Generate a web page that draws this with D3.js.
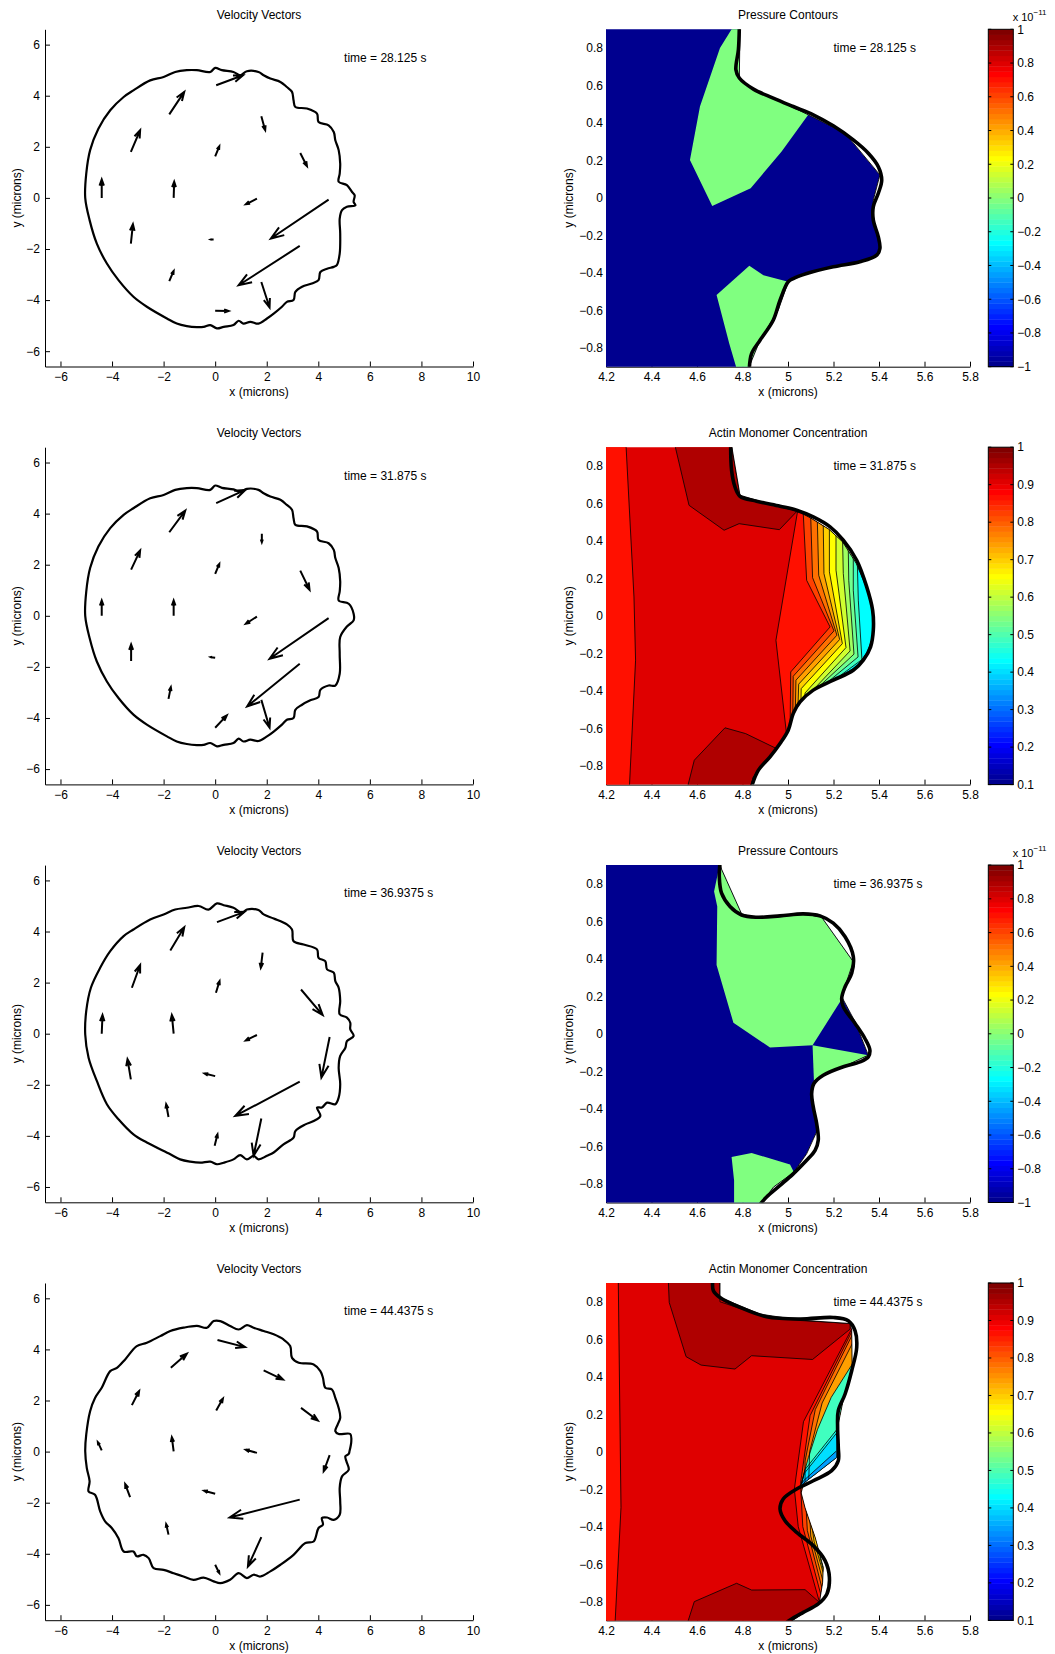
<!DOCTYPE html>
<html><head><meta charset="utf-8">
<script src="https://cdn.jsdelivr.net/npm/d3@7"></script>
<style>
body{margin:0;background:#fff}
text{font-family:"Liberation Sans",Arial,Helvetica,sans-serif;fill:#000}
</style>
</head><body>
<svg id="chart" width="1055" height="1654"></svg>
<script>
// ---------------- DATA ----------------
const timeLabels = ["time = 28.125 s","time = 31.875 s","time = 36.9375 s","time = 44.4375 s"];
const rightTitles = ["Pressure Contours","Actin Monomer Concentration","Pressure Contours","Actin Monomer Concentration"];
const rightKinds = ["pressure","actin","pressure","actin"];

const xTicksLeft = [-6,-4,-2,0,2,4,6,8,10];
const yTicksLeft = [-6,-4,-2,0,2,4,6];
const xTicksRight = [4.2,4.4,4.6,4.8,5,5.2,5.4,5.6,5.8];
const yTicksRight = [-0.8,-0.6,-0.4,-0.2,0,0.2,0.4,0.6,0.8];
const cbTicksPressure = [-1,-0.8,-0.6,-0.4,-0.2,0,0.2,0.4,0.6,0.8,1];
const cbTicksActin = [0.1,0.2,0.3,0.4,0.5,0.6,0.7,0.8,0.9,1];
const cbRangePressure = [-1,1];
const cbRangeActin = [0.1,1];

// velocity vectors [x, y, u, v]
const arrows1 = [[0.04,4.41,1.04,0.39],[-1.78,3.27,0.58,0.88],[-3.27,1.80,0.36,0.85],[-4.40,0,0,0.72],[-3.27,-1.79,0.08,0.76],[-1.78,-3.26,0.17,0.40],[0,-4.42,0.52,-0.01],[1.79,-3.29,0.32,-1.00],[3.28,-1.88,-2.37,-1.54],[4.40,-0.07,-2.24,-1.52],[3.30,1.76,0.26,-0.52],[1.79,3.20,0.15,-0.55],[0,1.63,0.16,0.39],[-1.61,0,0.02,0.63],[-0.06,-1.63,-0.11,0],[1.62,-0.03,-0.43,-0.22]];
const arrows2 = [[0.04,4.41,1.13,0.52],[-1.78,3.27,0.62,0.85],[-3.26,1.81,0.35,0.75],[-4.40,0,0,0.6],[-3.26,-1.77,0,0.65],[-1.81,-3.25,0.09,0.46],[0,-4.38,0.45,0.48],[1.79,-3.29,0.32,-1.09],[3.28,-1.88,-2.04,-1.67],[4.40,-0.09,-2.29,-1.59],[3.30,1.77,0.36,-0.75],[1.81,3.21,0,-0.33],[0,1.64,0.16,0.39],[-1.61,0,0,0.6],[0,-1.64,-0.17,0.02],[1.62,-0.03,-0.43,-0.28]];
const arrows3 = [[0.07,4.37,1.07,0.40],[-1.74,3.26,0.54,0.91],[-3.23,1.80,0.32,0.89],[-4.40,0,0.03,0.73],[-3.27,-1.79,-0.13,0.79],[-1.81,-3.26,-0.09,0.50],[-0.02,-4.39,0.11,0.45],[1.79,-3.32,-0.30,-1.46],[3.28,-1.88,-2.50,-1.34],[4.44,-0.13,-0.32,-1.59],[3.33,1.73,0.84,-1.00],[1.84,3.17,-0.07,-0.59],[0.03,1.60,0.14,0.46],[-1.61,0,-0.07,0.73],[0,-1.66,-0.41,0.10],[1.62,-0.05,-0.43,-0.21]];
const arrows4 = [[0.09,4.37,1.07,-0.28],[-1.72,3.28,0.62,0.55],[-3.23,1.82,0.28,0.55],[-4.40,0.05,-0.15,0.32],[-3.30,-1.78,-0.19,0.51],[-1.81,-3.25,-0.09,0.41],[0,-4.43,0.16,-0.33],[1.79,-3.35,-0.52,-1.15],[3.28,-1.88,-2.72,-0.70],[4.44,-0.14,-0.23,-0.63],[3.33,1.71,0.65,-0.49],[1.88,3.18,0.75,-0.36],[0.04,1.61,0.26,0.47],[-1.61,0.01,-0.07,0.55],[0,-1.65,-0.43,0.12],[1.62,-0.05,-0.43,0.12]];

// whole-cell outlines (microns)
const cell1 = [[0.00,5.09],[0.26,5.00],[0.71,4.93],[0.97,4.80],[1.23,4.96],[1.68,4.93],[1.88,4.80],[2.14,4.67],[2.53,4.54],[2.78,4.34],[2.98,4.15],[3.04,3.82],[3.11,3.56],[3.56,3.50],[3.95,3.30],[4.01,2.97],[4.40,2.84],[4.60,2.58],[4.66,2.26],[4.79,1.87],[4.85,1.34],[4.83,0.95],[4.79,0.63],[5.11,0.50],[5.31,0.23],[5.41,0.10],[5.37,-0.16],[5.44,-0.29],[5.11,-0.35],[4.92,-0.48],[4.83,-0.81],[4.85,-1.40],[4.83,-2.18],[4.72,-2.63],[4.60,-2.70],[4.34,-2.77],[4.08,-2.90],[4.01,-3.22],[3.75,-3.35],[3.37,-3.48],[3.11,-3.68],[3.04,-4.00],[2.78,-4.07],[2.59,-4.26],[2.27,-4.53],[2.01,-4.72],[1.68,-4.92],[1.36,-4.85],[1.10,-4.92],[0.91,-4.81],[0.71,-4.98],[0.33,-5.05],[0.07,-5.11],[-0.19,-4.98],[-0.45,-5.05],[-0.71,-5.06],[-1.10,-5.02],[-1.49,-4.92],[-1.87,-4.72],[-2.65,-4.26],[-3.17,-3.87],[-3.75,-3.22],[-4.20,-2.57],[-4.59,-1.79],[-4.87,-0.87],[-5.04,0],[-5.00,0.95],[-4.85,1.87],[-4.53,2.71],[-4.07,3.43],[-3.55,3.95],[-3.17,4.21],[-2.52,4.60],[-2.00,4.73],[-1.55,4.93],[-1.10,5.00],[-0.71,5.00],[-0.19,4.93]];
const cell2 = [[0.00,5.10],[0.26,5.01],[0.71,4.95],[0.97,4.85],[1.23,4.97],[1.68,4.93],[1.88,4.80],[2.14,4.67],[2.53,4.54],[2.78,4.34],[2.98,4.15],[3.04,3.82],[3.11,3.56],[3.56,3.50],[3.95,3.30],[4.01,2.97],[4.40,2.84],[4.60,2.58],[4.66,2.26],[4.79,1.87],[4.85,1.34],[4.83,0.95],[4.79,0.60],[5.18,0.47],[5.37,0.08],[5.37,-0.18],[5.11,-0.42],[4.85,-0.83],[4.83,-1.49],[4.83,-2.27],[4.66,-2.73],[4.40,-2.73],[4.08,-2.90],[4.01,-3.18],[3.69,-3.31],[3.37,-3.48],[3.11,-3.68],[3.04,-4.00],[2.78,-4.07],[2.59,-4.26],[2.27,-4.53],[2.01,-4.72],[1.68,-4.90],[1.36,-4.85],[1.10,-4.92],[0.91,-4.81],[0.71,-4.98],[0.33,-5.05],[0.07,-5.11],[-0.19,-4.98],[-0.45,-5.05],[-0.71,-5.06],[-1.10,-5.02],[-1.49,-4.92],[-1.87,-4.72],[-2.65,-4.26],[-3.17,-3.87],[-3.75,-3.22],[-4.20,-2.57],[-4.59,-1.79],[-4.87,-0.87],[-5.04,0],[-5.00,0.95],[-4.85,1.87],[-4.53,2.71],[-4.07,3.43],[-3.55,3.95],[-3.17,4.21],[-2.52,4.60],[-2.00,4.73],[-1.55,4.93],[-1.10,5.00],[-0.71,5.00],[-0.19,4.93]];
const cell3 = [[0.07,5.10],[0.33,5.03],[0.71,4.93],[1.04,4.73],[1.23,4.86],[1.68,4.84],[1.88,4.67],[2.27,4.51],[2.78,4.28],[2.98,4.08],[3.04,3.62],[3.43,3.49],[3.95,3.30],[4.01,2.97],[4.27,2.84],[4.34,2.52],[4.60,2.39],[4.66,2.06],[4.79,1.80],[4.85,1.28],[4.83,0.76],[5.11,0.63],[5.24,0.43],[5.24,0.17],[5.37,-0.09],[5.11,-0.29],[5.05,-0.55],[4.85,-0.87],[4.79,-1.33],[4.85,-1.98],[4.79,-2.50],[4.66,-2.76],[4.34,-2.70],[4.14,-2.89],[3.95,-2.89],[4.08,-3.22],[3.82,-3.42],[3.50,-3.55],[3.11,-3.81],[3.04,-4.07],[2.65,-4.33],[2.27,-4.65],[2.01,-4.78],[1.68,-4.92],[1.49,-4.78],[1.23,-4.92],[0.97,-4.75],[0.71,-4.92],[0.33,-5.05],[0.07,-5.11],[-0.19,-5.01],[-0.58,-5.05],[-0.97,-5.01],[-1.36,-4.92],[-1.74,-4.72],[-2.65,-4.26],[-3.17,-3.94],[-3.75,-3.35],[-4.20,-2.76],[-4.59,-1.85],[-4.91,-0.94],[-5.04,-0.03],[-5.00,0.89],[-4.82,1.80],[-4.46,2.58],[-4.07,3.23],[-3.55,3.82],[-3.17,4.08],[-2.52,4.47],[-2.00,4.67],[-1.55,4.86],[-1.10,4.93],[-0.64,5.00],[-0.26,4.86]];
const cell4 = [[-0.06,5.11],[0.20,5.11],[0.58,4.92],[0.91,4.78],[1.23,4.95],[1.49,4.85],[1.88,4.72],[2.27,4.59],[2.65,4.39],[2.91,4.13],[2.98,3.67],[3.24,3.48],[3.82,3.41],[4.08,3.15],[4.18,2.89],[4.27,2.50],[4.53,2.43],[4.66,2.10],[4.79,1.71],[4.85,1.32],[4.75,1.06],[4.66,0.80],[4.79,0.69],[5.24,0.69],[5.28,0.41],[5.21,0.01],[5.18,-0.09],[5.05,-0.18],[5.09,-0.38],[5.18,-0.71],[4.92,-0.97],[4.83,-1.42],[4.85,-1.95],[4.83,-2.47],[4.60,-2.67],[4.34,-2.58],[4.14,-2.60],[4.18,-2.86],[4.01,-2.99],[3.82,-3.52],[3.50,-3.58],[3.04,-4.04],[2.53,-4.43],[2.14,-4.69],[1.75,-4.89],[1.49,-4.82],[1.23,-4.95],[0.91,-4.76],[0.58,-5.02],[0.20,-5.15],[-0.06,-5.08],[-0.45,-4.93],[-0.84,-5.02],[-1.23,-4.89],[-1.61,-4.76],[-2.00,-4.63],[-2.39,-4.56],[-2.58,-4.17],[-2.78,-4.04],[-3.04,-4.10],[-3.17,-3.91],[-3.55,-3.91],[-3.75,-3.39],[-4.01,-2.99],[-4.27,-2.73],[-4.46,-2.34],[-4.66,-1.69],[-4.91,-1.56],[-4.87,-1.16],[-4.98,-0.64],[-5.04,0.01],[-5.00,0.67],[-4.85,1.58],[-4.66,2.10],[-4.40,2.50],[-4.07,3.15],[-3.81,3.28],[-3.49,3.61],[-3.04,4.13],[-2.65,4.26],[-2.13,4.52],[-1.74,4.72],[-1.23,4.85],[-0.71,4.92],[-0.32,4.85]];

// zoomed leading-edge: mesh boundary (straight) and cell outline (smooth)
const mesh1 = [[4.789,0.91],[4.786,0.640],[4.848,0.581],[4.935,0.533],[5.089,0.444],[5.251,0.346],[5.404,0.123],[5.375,-0.011],[5.375,-0.118],[5.404,-0.260],[5.390,-0.305],[5.316,-0.340],[5.199,-0.367],[5.082,-0.403],[5.001,-0.447],[4.957,-0.599],[4.877,-0.759],[4.826,-0.91]];
const edge1 = [[4.786,0.91],[4.782,0.791],[4.771,0.684],[4.786,0.640],[4.848,0.581],[4.935,0.533],[5.023,0.488],[5.111,0.444],[5.199,0.385],[5.287,0.310],[5.353,0.239],[5.397,0.167],[5.412,0.096],[5.397,0.025],[5.375,-0.046],[5.375,-0.118],[5.397,-0.207],[5.404,-0.269],[5.390,-0.305],[5.316,-0.340],[5.199,-0.367],[5.082,-0.403],[5.023,-0.430],[5.001,-0.447],[4.965,-0.545],[4.935,-0.652],[4.877,-0.759],[4.840,-0.830],[4.830,-0.91]];
const pressure1Base = -1;
const pressure1Zones = [
  {v:-0.02, pts:[[4.757,0.91],[4.701,0.80],[4.613,0.488],[4.569,0.203],[4.667,-0.043],[4.836,0.052],[4.972,0.248],[5.089,0.444],[4.935,0.533],[4.848,0.581],[4.786,0.640],[4.789,0.91]]},
  {v:-0.02, pts:[[4.686,-0.518],[4.830,-0.362],[4.892,-0.412],[5.001,-0.447],[4.957,-0.599],[4.877,-0.759],[4.826,-0.91],[4.774,-0.91],[4.742,-0.777]]}
];

const mesh2 = [[4.752,0.91],[4.789,0.644],[4.862,0.617],[4.936,0.590],[5.041,0.560],[5.10,0.522],[5.18,0.462],[5.24,0.395],[5.30,0.28],[5.345,0.15],[5.372,0.03],[5.375,-0.05],[5.37,-0.12],[5.35,-0.19],[5.309,-0.263],[5.229,-0.325],[5.111,-0.396],[5.053,-0.459],[5.026,-0.521],[5.001,-0.61],[4.950,-0.708],[4.892,-0.788],[4.848,-0.859],[4.836,-0.91]];
const edge2 = [[4.748,0.91],[4.752,0.777],[4.767,0.688],[4.789,0.638],[4.862,0.612],[4.965,0.585],[5.038,0.564],[5.111,0.528],[5.185,0.475],[5.243,0.404],[5.302,0.297],[5.346,0.155],[5.372,0.030],[5.375,-0.076],[5.363,-0.165],[5.331,-0.236],[5.287,-0.290],[5.199,-0.343],[5.111,-0.396],[5.053,-0.459],[5.023,-0.521],[5.001,-0.610],[4.965,-0.681],[4.921,-0.752],[4.870,-0.823],[4.840,-0.91]];
const actin2Base = 0.91;
const actin2Strip = {v:0.865, line:[[4.288,0.91],[4.323,0.101],[4.330,-0.236],[4.303,-0.91]]};
const actin2High = [
  {v:0.95, pts:[[4.503,0.91],[4.565,0.590],[4.719,0.457],[4.785,0.492],[4.962,0.460],[5.041,0.560],[4.936,0.590],[4.862,0.617],[4.789,0.644],[4.752,0.91]]},
  {v:0.95, pts:[[4.559,-0.91],[4.588,-0.770],[4.723,-0.597],[4.814,-0.628],[4.950,-0.708],[4.892,-0.788],[4.848,-0.859],[4.836,-0.91]]}
];
const actin2Bands = [
  {v:0.865, line:[[5.043,0.565],[4.947,-0.130],[4.993,-0.625]]},
  {v:0.825, line:[[5.067,0.548],[5.082,0.190],[5.185,-0.059],[5.012,-0.299],[5.009,-0.628]]},
  {v:0.78,  line:[[5.100,0.527],[5.108,0.204],[5.202,-0.080],[5.023,-0.322],[5.021,-0.556]]},
  {v:0.74,  line:[[5.129,0.505],[5.135,0.217],[5.215,-0.103],[5.035,-0.343],[5.032,-0.510]]},
  {v:0.70,  line:[[5.155,0.486],[5.158,0.226],[5.227,-0.126],[5.047,-0.364],[5.044,-0.482]]},
  {v:0.655, line:[[5.182,0.465],[5.182,0.235],[5.239,-0.148],[5.058,-0.388],[5.057,-0.458]]},
  {v:0.61,  line:[[5.211,0.432],[5.211,0.244],[5.255,-0.169],[5.075,-0.411],[5.073,-0.440]]},
  {v:0.57,  line:[[5.240,0.400],[5.243,0.226],[5.273,-0.187],[5.097,-0.412]]},
  {v:0.53,  line:[[5.265,0.352],[5.267,0.190],[5.290,-0.204],[5.123,-0.392]]},
  {v:0.485, line:[[5.287,0.310],[5.287,0.137],[5.308,-0.219],[5.155,-0.373]]},
  {v:0.43,  line:[[5.305,0.270],[5.309,0.084],[5.325,-0.233],[5.199,-0.346]]}
];

const mesh3 = [[4.701,0.91],[4.708,0.878],[4.796,0.640],[4.862,0.616],[4.965,0.629],[5.067,0.640],[5.148,0.622],[5.287,0.385],[5.236,0.198],[5.295,0.064],[5.353,-0.114],[5.243,-0.176],[5.155,-0.221],[5.114,-0.251],[5.104,-0.319],[5.114,-0.39],[5.129,-0.515],[5.082,-0.640],[5.026,-0.738],[4.936,-0.818],[4.880,-0.91]];
const edge3 = [[4.701,0.91],[4.698,0.839],[4.708,0.75],[4.745,0.679],[4.796,0.634],[4.862,0.622],[4.965,0.629],[5.067,0.640],[5.141,0.629],[5.199,0.590],[5.251,0.518],[5.287,0.412],[5.280,0.323],[5.251,0.251],[5.236,0.189],[5.243,0.144],[5.295,0.055],[5.338,-0.025],[5.360,-0.087],[5.353,-0.123],[5.316,-0.150],[5.243,-0.176],[5.155,-0.221],[5.114,-0.265],[5.104,-0.319],[5.111,-0.390],[5.126,-0.479],[5.133,-0.568],[5.119,-0.622],[5.082,-0.675],[5.023,-0.747],[4.965,-0.809],[4.906,-0.871],[4.877,-0.91]];
const pressure3Base = -1;
const pressure3Zones = [
  {v:-0.02, pts:[[4.701,0.91],[4.675,0.759],[4.689,0.679],[4.686,0.367],[4.760,0.059],[4.921,-0.073],[5.108,-0.061],[5.229,0.171],[5.287,0.385],[5.148,0.622],[5.067,0.640],[4.965,0.629],[4.862,0.616],[4.796,0.640],[4.708,0.878],[4.708,0.91]]},
  {v:-0.02, pts:[[5.108,-0.061],[5.353,-0.114],[5.114,-0.251]]},
  {v:-0.02, pts:[[4.752,-0.657],[4.840,-0.636],[5.009,-0.697],[5.026,-0.738],[4.936,-0.818],[4.880,-0.91],[4.763,-0.91],[4.763,-0.782]]}
];

const mesh4 = [[4.701,0.91],[4.701,0.823],[4.877,0.734],[5.053,0.702],[5.273,0.684],[5.280,0.649],[5.282,0.45],[5.245,0.29],[5.218,0.13],[5.214,-0.031],[5.068,-0.169],[5.058,-0.22],[5.075,-0.30],[5.12,-0.46],[5.155,-0.617],[5.152,-0.70],[5.138,-0.804],[5.009,-0.91]];
const edge4 = [[4.669,0.91],[4.672,0.859],[4.701,0.823],[4.789,0.770],[4.906,0.720],[5.053,0.708],[5.199,0.716],[5.265,0.699],[5.295,0.645],[5.302,0.556],[5.280,0.432],[5.251,0.308],[5.221,0.219],[5.218,0.130],[5.221,0.023],[5.221,-0.048],[5.192,-0.101],[5.111,-0.155],[5.038,-0.199],[4.979,-0.252],[4.965,-0.306],[4.987,-0.368],[5.038,-0.430],[5.111,-0.501],[5.163,-0.581],[5.182,-0.670],[5.171,-0.759],[5.133,-0.812],[5.067,-0.857],[5.009,-0.898],[4.995,-0.91]];
const actin4Base = 0.91;
const actin4Strip = {v:0.865, line:[[4.254,0.91],[4.262,0.094],[4.266,-0.297],[4.240,-0.91]]};
const actin4High = [
  {v:0.95, pts:[[4.474,0.91],[4.478,0.796],[4.552,0.507],[4.618,0.462],[4.767,0.441],[4.840,0.512],[5.108,0.492],[5.273,0.654],[5.273,0.684],[5.053,0.700],[4.906,0.716],[4.701,0.800],[4.701,0.91]]},
  {v:0.95, pts:[[4.559,-0.91],[4.588,-0.80],[4.774,-0.702],[4.840,-0.738],[5.075,-0.736],[5.138,-0.804],[5.009,-0.91]]}
];
const actin4Bands = [
  {v:0.865, line:[[5.280,0.655],[5.068,0.160],[5.028,-0.20],[5.045,-0.40],[5.140,-0.81]]},
  {v:0.825, line:[[5.282,0.645],[5.097,0.192],[5.055,-0.17],[5.065,-0.40],[5.146,-0.77]]},
  {v:0.78,  line:[[5.283,0.625],[5.120,0.225],[5.075,-0.05],[5.075,-0.20],[5.085,-0.42],[5.152,-0.74]]},
  {v:0.74,  line:[[5.284,0.580],[5.150,0.260],[5.095,0.0],[5.090,-0.20],[5.100,-0.45],[5.156,-0.70]]},
  {v:0.70,  line:[[5.090,-0.27],[5.115,-0.48],[5.158,-0.66]]},
  {v:0.485, line:[[5.140,-0.56],[5.158,-0.64]]},
  {v:0.485, line:[[5.284,0.47],[5.19,0.29],[5.13,0.12],[5.09,-0.03],[5.075,-0.095],[5.058,-0.175]]},
  {v:0.45,  line:[[5.058,-0.175],[5.075,-0.095],[5.216,0.12]]},
  {v:0.40,  line:[[5.058,-0.175],[5.072,-0.115],[5.214,0.10]]},
  {v:0.345, line:[[5.058,-0.175],[5.068,-0.155],[5.212,0.003]]}
];

const leftArrows = [arrows1, arrows2, arrows3, arrows4];
const leftCells = [cell1, cell2, cell3, cell4];
const rightPanels = [
  {mesh:mesh1, edge:edge1, base:pressure1Base, zones:pressure1Zones},
  {mesh:mesh2, edge:edge2, base:actin2Base, strip:actin2Strip, zones:actin2High, bands:actin2Bands},
  {mesh:mesh3, edge:edge3, base:pressure3Base, zones:pressure3Zones},
  {mesh:mesh4, edge:edge4, base:actin4Base, strip:actin4Strip, zones:actin4High, bands:actin4Bands}
];

// ---------------- LAYOUT ----------------
const ROW = 417.9;
const LA = {x0:45, x1:473, y0:29.3, y1:366.5};
const RA = {x0:606, x1:970, y0:29.3, y1:366.7};
const CB = {x0:988.3, x1:1013.3};

// MATLAB jet(64)
function jet64(k){
  const u = j => (j>=1&&j<=16)? j/16 : (j>=17&&j<=31)? 1 : (j>=32&&j<=47)? (48-j)/16 : 0;
  return d3.rgb(Math.round(u(k-24)*255), Math.round(u(k-8)*255), Math.round(u(k+8)*255)).formatHex();
}
function colorOf(v, r){ const k = Math.min(64, Math.max(1, Math.floor((v-r[0])/(r[1]-r[0])*64)+1)); return jet64(k); }
const fmt = d => (d < 0 ? "\u2212" : "") + String(Math.abs(+(+d).toFixed(2)));

const svg = d3.select("#chart");

function styleAxis(a){
  a.attr("font-family", null).attr("font-size", null);
  a.selectAll("text").style("font-size","12px").attr("fill","#000");
  a.select(".domain").attr("stroke","#000");
  a.selectAll(".tick line").attr("stroke","#000");
}
function drawAxes(g, x, y, xt, yt, padY){
  const ax = g.append("g").attr("transform",`translate(0,${y.range()[0]})`)
    .call(d3.axisBottom(x).tickValues(xt).tickFormat(fmt).tickSizeInner(-5).tickSizeOuter(0).tickPadding(6));
  const ay = g.append("g").attr("transform",`translate(${x.range()[0]},0)`)
    .call(d3.axisLeft(y).tickValues(yt).tickFormat(fmt).tickSizeInner(-5).tickSizeOuter(0).tickPadding(padY));
  styleAxis(ax); styleAxis(ay);
}

rightPanels.forEach((P, i) => {
  const oy = i*ROW;
  // ---------- left: velocity vectors ----------
  const gl = svg.append("g").attr("transform",`translate(0,${oy})`);
  const xL = d3.scaleLinear().domain([-6.6,10]).range([LA.x0, LA.x1]);
  const yL = d3.scaleLinear().domain([-6.6,6.6]).range([LA.y1, LA.y0]);
  drawAxes(gl, xL, yL, xTicksLeft, yTicksLeft, 5);
  gl.append("text").attr("x",(LA.x0+LA.x1)/2).attr("y",19).attr("text-anchor","middle").style("font-size","12px").text("Velocity Vectors");
  gl.append("text").attr("x",(LA.x0+LA.x1)/2).attr("y",396).attr("text-anchor","middle").style("font-size","12px").text("x (microns)");
  gl.append("text").attr("transform",`translate(20.5,${(LA.y0+LA.y1)/2}) rotate(-90)`).attr("text-anchor","middle").style("font-size","12px").text("y (microns)");
  gl.append("text").attr("x",xL(5)).attr("y",yL(5.5)+4.3).style("font-size","12px").text(timeLabels[i]);

  gl.append("path").datum(leftCells[i])
    .attr("d", d3.line().x(d=>xL(d[0])).y(d=>yL(d[1])).curve(d3.curveCatmullRomClosed.alpha(0.5)))
    .attr("fill","none").attr("stroke","#000").attr("stroke-width",2.2).attr("stroke-linejoin","round");

  gl.append("g").selectAll("path").data(leftArrows[i]).join("path")
    .attr("d", d => {
      const x0=xL(d[0]), y0=yL(d[1]), x1=xL(d[0]+d[2]), y1=yL(d[1]+d[3]);
      const dx=x1-x0, dy=y1-y0, L=Math.hypot(dx,dy)||1;
      const h=Math.min(0.33*L,13), w=0.36*h, ux=dx/L, uy=dy/L;
      const bx=x1-ux*h, by=y1-uy*h;
      return `M${x0},${y0}L${x1},${y1}M${bx-uy*w},${by+ux*w}L${x1},${y1}L${bx+uy*w},${by-ux*w}`;
    })
    .attr("fill","none").attr("stroke","#000").attr("stroke-width",2).attr("stroke-linejoin","miter");

  // ---------- right: contour panel ----------
  const gr = svg.append("g").attr("transform",`translate(0,${oy})`);
  const xR = d3.scaleLinear().domain([4.2,5.8]).range([RA.x0, RA.x1]);
  const yR = d3.scaleLinear().domain([-0.9,0.9]).range([RA.y1, RA.y0]);
  const isP = rightKinds[i]==="pressure";
  const crange = isP ? cbRangePressure : cbRangeActin;
  drawAxes(gr, xR, yR, xTicksRight, yTicksRight, 3);

  const line = d3.line().x(d=>xR(d[0])).y(d=>yR(d[1]));
  const axId = "ax"+i, domId = "dom"+i;
  const defs = gr.append("defs");
  defs.append("clipPath").attr("id",axId).append("rect")
    .attr("x",RA.x0).attr("y",RA.y0).attr("width",RA.x1-RA.x0).attr("height",RA.y1-RA.y0);
  const domPts = [[4.2, P.mesh[0][1]], ...P.mesh, [4.2, P.mesh[P.mesh.length-1][1]]];
  defs.append("clipPath").attr("id",domId).append("path").attr("d", line(domPts)+"Z");

  const gc = gr.append("g").attr("clip-path",`url(#${axId})`).append("g").attr("clip-path",`url(#${domId})`);
  gc.append("path").attr("d", line(domPts)+"Z").attr("fill", colorOf(P.base, crange));
  const stroke = isP ? "none" : "#000";
  if (P.strip){
    const s = P.strip.line;
    const pts = [[4.15, s[0][1]], ...s, [4.15, s[s.length-1][1]]];
    gc.append("path").attr("d", line(pts)+"Z").attr("fill", colorOf(P.strip.v, crange));
    gc.append("path").attr("d", line(s)).attr("fill","none").attr("stroke","#000").attr("stroke-width",0.8);
  }
  gc.selectAll("path.zone").data(P.zones).join("path").attr("class","zone")
    .attr("d", d => line(d.pts)+"Z").attr("fill", d => colorOf(d.v, crange))
    .attr("stroke", stroke).attr("stroke-width",0.8);
  if (P.bands){
    P.bands.forEach(b => {
      const f = b.line[0], l = b.line[b.line.length-1];
      const pts = [...b.line, [5.8, l[1]], [5.8, f[1]]];
      gc.append("path").attr("d", line(pts)+"Z").attr("fill", colorOf(b.v, crange));
    });
    P.bands.forEach(b => {
      gc.append("path").attr("d", line(b.line)).attr("fill","none").attr("stroke","#000").attr("stroke-width",0.8);
    });
  }
  const go = gr.append("g").attr("clip-path",`url(#${axId})`);
  go.append("path").attr("d", line(P.mesh)).attr("fill","none").attr("stroke","#000").attr("stroke-width",0.9);
  go.append("path").datum(P.edge).attr("d", d3.line().x(d=>xR(d[0])).y(d=>yR(d[1])).curve(d3.curveCatmullRom.alpha(0.5)))
    .attr("fill","none").attr("stroke","#000").attr("stroke-width",3.6).attr("stroke-linejoin","round");

  gr.append("text").attr("x",(RA.x0+RA.x1)/2).attr("y",19).attr("text-anchor","middle").style("font-size","12px").text(rightTitles[i]);
  gr.append("text").attr("x",(RA.x0+RA.x1)/2).attr("y",396).attr("text-anchor","middle").style("font-size","12px").text("x (microns)");
  gr.append("text").attr("transform",`translate(572.5,${(RA.y0+RA.y1)/2}) rotate(-90)`).attr("text-anchor","middle").style("font-size","12px").text("y (microns)");
  gr.append("text").attr("x",xR(5.2)).attr("y",yR(0.8)+4.3).style("font-size","12px").text(timeLabels[i]);

  // ---------- colorbar ----------
  const cs = d3.scaleLinear().domain(crange).range([RA.y1, RA.y0]);
  const steps = d3.range(1,65);
  const hh = (RA.y1-RA.y0)/64;
  gr.append("g").selectAll("rect").data(steps).join("rect")
    .attr("x",CB.x0).attr("width",CB.x1-CB.x0)
    .attr("y", k => RA.y1 - k*hh).attr("height", hh+0.4)
    .attr("fill", k => jet64(k));
  gr.append("rect").attr("x",CB.x0).attr("y",RA.y0).attr("width",CB.x1-CB.x0).attr("height",RA.y1-RA.y0)
    .attr("fill","none").attr("stroke","#000").attr("stroke-width",1);
  const ticks = isP ? cbTicksPressure : cbTicksActin;
  const tg = gr.append("g").selectAll("g").data(ticks).join("g");
  tg.append("line").attr("x1",CB.x0).attr("x2",CB.x0+3).attr("y1",d=>cs(d)).attr("y2",d=>cs(d)).attr("stroke","#000");
  tg.append("line").attr("x1",CB.x1-3).attr("x2",CB.x1).attr("y1",d=>cs(d)).attr("y2",d=>cs(d)).attr("stroke","#000");
  tg.append("text").attr("x",CB.x1+4).attr("y",d=>cs(d)+4.3).style("font-size","12px").text(fmt);
  if (isP){
    const t = gr.append("text").attr("x",1012.7).attr("y",21).style("font-size","11px");
    t.append("tspan").text("x 10");
    t.append("tspan").attr("dy",-6).style("font-size","8px").text("\u221211");
  }
});
</script>
</body></html>
